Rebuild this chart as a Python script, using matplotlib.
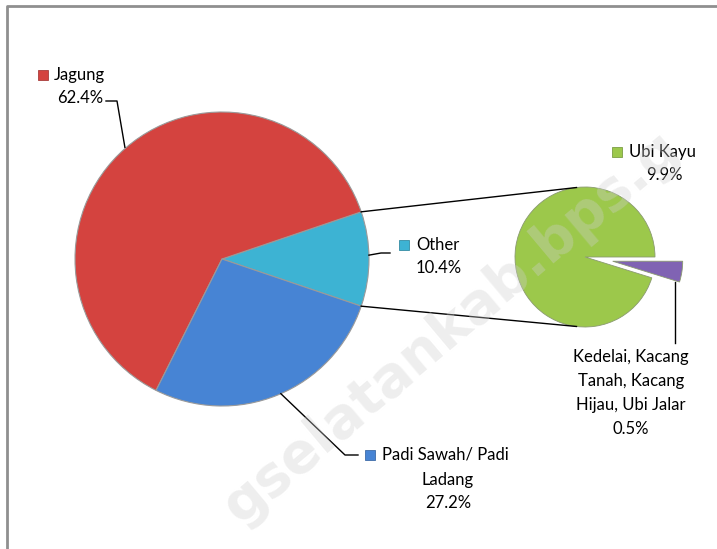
import numpy as np
import matplotlib
matplotlib.use('Agg')
import matplotlib.pyplot as plt

plt.rcParams['font.family'] = ['Lato', 'DejaVu Sans']

# main pie
main_labels = ['Other', 'Jagung', 'Padi Sawah/ Padi\nLadang']
main_values = [10.4, 62.4, 27.2]
main_colors = ['#3DB3D3', '#D4433F', '#4784D4']

# second pie (breakdown of Other)
sub_labels = ['Kedelai, Kacang\nTanah, Kacang\nHijau, Ubi Jalar', 'Ubi Kayu']
sub_values = [0.5, 9.9]
sub_colors = ['#8063B3', '#9CC84B']

W, H = 717, 549
fig = plt.figure(figsize=(W / 100, H / 100), dpi=100)
ax = fig.add_axes([0, 0, 1, 1])
ax.set_xlim(0, W)
ax.set_ylim(0, H)
ax.set_aspect('equal')
ax.axis('off')

c1, r1 = (222, 290), 147
c2, r2 = (585, 292), 70

other_span = main_values[0] / 100 * 360
start = -other_span / 2
ax.pie(main_values, colors=main_colors, startangle=start, counterclock=True,
       center=c1, radius=r1, wedgeprops=dict(edgecolor='#9a9a9a', linewidth=0.8))

sub_span = sub_values[0] / sum(sub_values) * 360
ax.pie(sub_values, colors=sub_colors, startangle=-sub_span, center=c2, radius=r2,
       explode=[28, 0], wedgeprops=dict(edgecolor='#8a9a70', linewidth=0.6))

ax.set_xlim(0, W)
ax.set_ylim(0, H)


def on(c, r, deg):
    a = np.deg2rad(deg)
    return c[0] + r * np.cos(a), c[1] + r * np.sin(a)


# connector lines between the pies
for sgn in (1, -1):
    p = on(c1, r1, sgn * other_span / 2)
    q = on(c2, r2, sgn * 97)
    ax.plot([p[0], q[0]], [p[1], q[1]], color='black', lw=1)

fs = 12
# Jagung
p = on(c1, r1 + 1, 131)
ax.plot([106, 117, p[0]], [448, 448, p[1]], color='black', lw=1)
ax.scatter([43], [474], marker='s', s=45, color=main_colors[1], edgecolor='#9a2a28', lw=0.5)
ax.text(54, 474, 'Jagung', fontsize=fs, ha='left', va='center')
ax.text(80, 451, '62.4%', fontsize=fs, ha='center', va='center')

# Other
p = on(c1, r1, 1.5)
ax.plot([p[0], 381, 390], [p[1], 296, 296], color='black', lw=1)
ax.scatter([404], [304], marker='s', s=45, color=main_colors[0], edgecolor='#1f7d96', lw=0.5)
ax.text(416, 304, 'Other', fontsize=fs, ha='left', va='center')
ax.text(416, 281, '10.4%', fontsize=fs, ha='left', va='center')

# Padi
p = on(c1, r1, -66.4)
ax.plot([p[0], 345, 358], [p[1], 94, 94], color='black', lw=1)
ax.scatter([370], [94], marker='s', s=45, color=main_colors[2], edgecolor='#2a5a9a', lw=0.5)
ax.text(382, 94, 'Padi Sawah/ Padi', fontsize=fs, ha='left', va='center')
ax.text(448, 69, 'Ladang', fontsize=fs, ha='center', va='center')
ax.text(448, 46, '27.2%', fontsize=fs, ha='center', va='center')

# Ubi Kayu
ax.scatter([617], [397], marker='s', s=45, color=sub_colors[1], edgecolor='#6a9030', lw=0.5)
ax.text(629, 397, 'Ubi Kayu', fontsize=fs, ha='left', va='center')
ax.text(664, 374, '9.9%', fontsize=fs, ha='center', va='center')

# Kedelai etc.
ax.plot([675, 675], [267, 206], color='black', lw=1)
ax.text(631, 156, sub_labels[0] + '\n0.5%', fontsize=fs, ha='center', va='center',
        linespacing=1.6)

# watermark on top
ax.text(452, 222, 'gselatankab.bps.g', fontsize=40, fontweight='bold',
        color='#D0D0D0', alpha=0.35, rotation=40, ha='center', va='center',
        zorder=10, family='DejaVu Sans')

# frame
ax.plot([7, 7, W], [0, H - 6, H - 6], color='#8f8f8f', lw=2, solid_capstyle='butt')

fig.savefig('out.png', dpi=100)
